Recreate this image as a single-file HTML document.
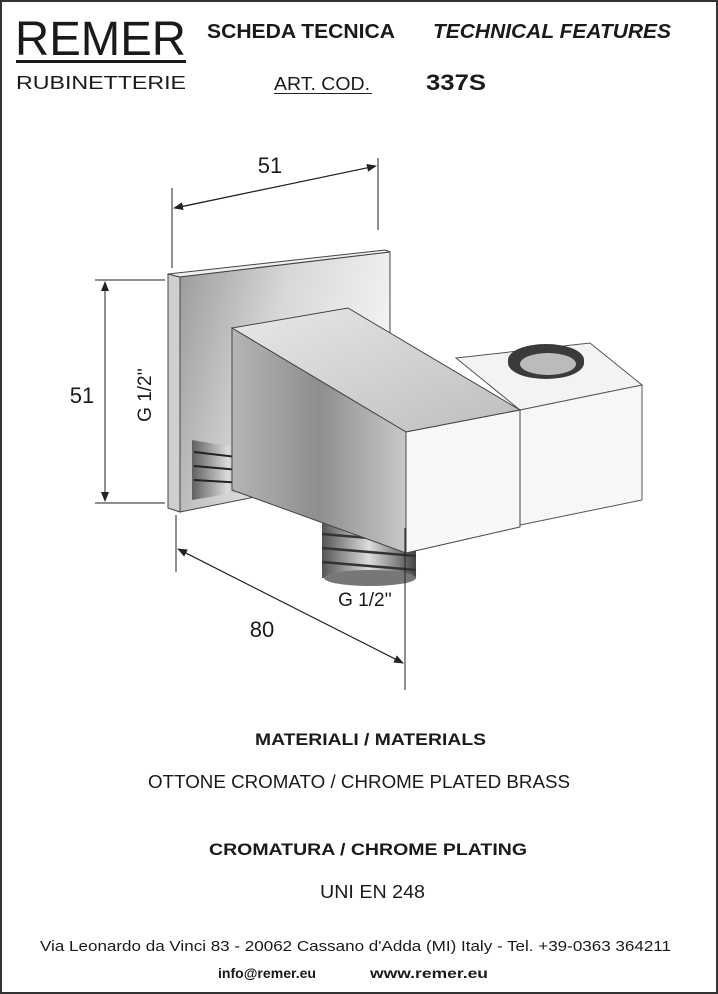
<!DOCTYPE html>
<html><head><meta charset="utf-8"><style>
html,body{margin:0;padding:0;background:#fff}
svg{display:block}
text{font-family:"Liberation Sans",sans-serif;fill:#1a1a1a}
</style></head><body>
<svg width="718" height="994" viewBox="0 0 718 994" xmlns="http://www.w3.org/2000/svg">
<defs>
<linearGradient id="plate" x1="0" y1="0" x2="1" y2="0.3"><stop offset="0" stop-color="#9a9a9a"/><stop offset="0.5" stop-color="#d8d8d8"/><stop offset="1" stop-color="#f2f2f2"/></linearGradient>
<linearGradient id="side" x1="0" y1="0" x2="1" y2="0"><stop offset="0" stop-color="#b5b5b5"/><stop offset="0.5" stop-color="#8e8e8e"/><stop offset="1" stop-color="#c8c8c8"/></linearGradient>
<linearGradient id="top" x1="0" y1="0" x2="1" y2="1"><stop offset="0" stop-color="#e8e8e8"/><stop offset="1" stop-color="#bdbdbd"/></linearGradient>
<linearGradient id="thr" x1="0" y1="0" x2="1" y2="0"><stop offset="0" stop-color="#555"/><stop offset="0.5" stop-color="#ddd"/><stop offset="1" stop-color="#444"/></linearGradient>
<marker id="ar" markerWidth="10" markerHeight="8" refX="9" refY="4" orient="auto" markerUnits="userSpaceOnUse"><path d="M0,0 L10,4 L0,8 z" fill="#222"/></marker>
</defs>
<rect x="1" y="1" width="716" height="992" fill="#fff" stroke="#333" stroke-width="2"/>
<!-- header -->
<text x="15" y="55" font-size="48" textLength="171" lengthAdjust="spacingAndGlyphs">REMER</text>
<rect x="16" y="60" width="170" height="3" fill="#1a1a1a"/>
<text x="16" y="89" font-size="18" textLength="170" lengthAdjust="spacingAndGlyphs">RUBINETTERIE</text>
<text x="207" y="38" font-size="20" font-weight="bold" textLength="188" lengthAdjust="spacingAndGlyphs">SCHEDA TECNICA</text>
<text x="433" y="38" font-size="20" font-weight="bold" font-style="italic" textLength="238" lengthAdjust="spacingAndGlyphs">TECHNICAL FEATURES</text>
<text x="274" y="90" font-size="18" textLength="96" lengthAdjust="spacingAndGlyphs">ART. COD.</text>
<rect x="274" y="93" width="98" height="1" fill="#222"/>
<text x="426" y="90" font-size="22" font-weight="bold" textLength="60" lengthAdjust="spacingAndGlyphs">337S</text>
<!-- drawing -->
<g>
<polygon points="168,274 180,277 180,512 168,508" fill="#cfcfcf" stroke="#444" stroke-width="1"/>
<polygon points="168,274 385,250 390,252 180,277" fill="#eee" stroke="#444" stroke-width="1"/>
<polygon points="180,277 390,252 390,470 180,512" fill="url(#plate)" stroke="#444" stroke-width="1"/>
<polygon points="192,440 264,452 264,488 192,500" fill="url(#thr)" opacity="0.9"/>
<g stroke="#222" stroke-width="2"><line x1="194" y1="452" x2="262" y2="460"/><line x1="194" y1="466" x2="262" y2="472"/><line x1="194" y1="480" x2="262" y2="484"/></g>
<rect x="322" y="508" width="94" height="70" fill="url(#thr)"/>
<g stroke="#333" stroke-width="2.5"><line x1="322" y1="520" x2="416" y2="528"/><line x1="322" y1="534" x2="416" y2="542"/><line x1="322" y1="548" x2="416" y2="556"/><line x1="322" y1="562" x2="416" y2="570"/></g>
<ellipse cx="370" cy="578" rx="46" ry="8" fill="#777"/>
<!-- holder -->
<polygon points="456,358 590,343 642,385 520,410" fill="#f3f3f3" stroke="#555"/>
<path d="M508,360 a38,16 0 0 1 76,0 l0,3 a38,16 0 0 1 -76,0 z" fill="#3a3a3a"/>
<ellipse cx="548" cy="364" rx="28" ry="11" fill="#bbb"/>
<polygon points="520,410 642,385 642,500 520,525" fill="#f7f7f7" stroke="#555"/>
<!-- arm -->
<polygon points="232,328 348,308 520,410 406,432" fill="url(#top)" stroke="#444"/>
<polygon points="232,328 406,432 406,553 232,490" fill="url(#side)" stroke="#444"/>
<polygon points="406,432 520,410 520,527 406,553" fill="#f8f8f8" stroke="#444"/>
</g>
<!-- dimensions -->
<g stroke="#222" stroke-width="1" fill="none">
<line x1="172" y1="188" x2="172" y2="268"/>
<line x1="378" y1="158" x2="378" y2="230"/>
<line x1="176" y1="208" x2="376" y2="166" marker-end="url(#ar)"/>
<line x1="376" y1="166" x2="174" y2="208" marker-end="url(#ar)"/>
<line x1="95" y1="280" x2="165" y2="280"/>
<line x1="95" y1="503" x2="165" y2="503"/>
<line x1="105" y1="283" x2="105" y2="501" marker-end="url(#ar)"/>
<line x1="105" y1="500" x2="105" y2="282" marker-end="url(#ar)"/>
<line x1="176" y1="515" x2="176" y2="572"/>
<line x1="405" y1="528" x2="405" y2="690"/>
<line x1="178" y1="549" x2="403" y2="663" marker-end="url(#ar)"/>
<line x1="403" y1="663" x2="178" y2="549" marker-end="url(#ar)"/>
</g>
<text x="270" y="173" font-size="22" text-anchor="middle">51</text>
<text x="82" y="403" font-size="22" text-anchor="middle">51</text>
<text x="262" y="637" font-size="22" text-anchor="middle">80</text>
<text x="365" y="606" font-size="19" text-anchor="middle">G 1/2''</text>
<text transform="translate(151,395) rotate(-90)" font-size="19" text-anchor="middle">G 1/2''</text>
<!-- body text -->
<text x="255" y="745" font-size="17" font-weight="bold" textLength="231" lengthAdjust="spacingAndGlyphs">MATERIALI / MATERIALS</text>
<text x="148" y="788" font-size="18" textLength="422" lengthAdjust="spacingAndGlyphs">OTTONE CROMATO / CHROME PLATED BRASS</text>
<text x="209" y="855" font-size="17" font-weight="bold" textLength="318" lengthAdjust="spacingAndGlyphs">CROMATURA / CHROME PLATING</text>
<text x="320" y="898" font-size="18" textLength="105" lengthAdjust="spacingAndGlyphs">UNI EN 248</text>
<text x="40" y="951" font-size="15" textLength="631" lengthAdjust="spacingAndGlyphs">Via Leonardo da Vinci 83 - 20062 Cassano d'Adda (MI) Italy - Tel. +39-0363 364211</text>
<text x="218" y="978" font-size="14" font-weight="bold" textLength="98" lengthAdjust="spacingAndGlyphs">info@remer.eu</text>
<text x="370" y="978" font-size="14" font-weight="bold" textLength="118" lengthAdjust="spacingAndGlyphs">www.remer.eu</text>
</svg>
</body></html>
